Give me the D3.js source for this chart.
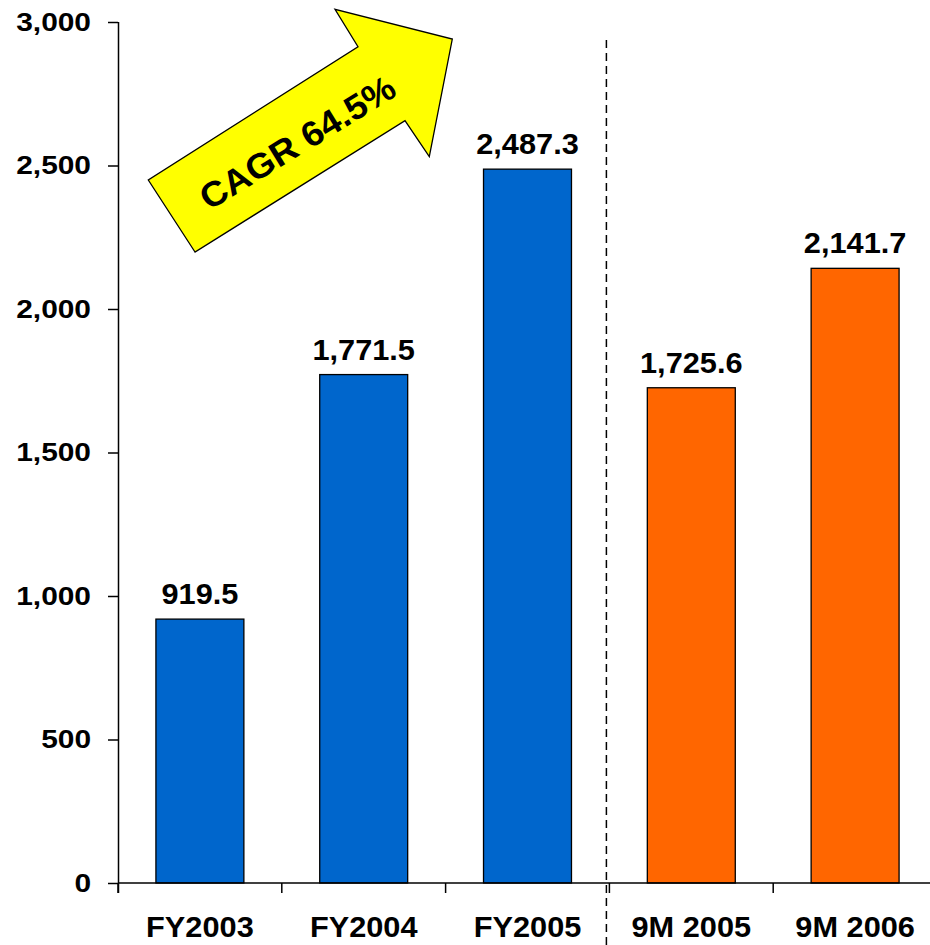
<!DOCTYPE html>
<html>
<head>
<meta charset="utf-8">
<script src="https://cdn.jsdelivr.net/npm/d3@7"></script>
<style>
  html, body { margin: 0; padding: 0; background: #fff; }
  svg { display: block; font-family: Arial, "Liberation Sans", sans-serif; }
</style>
</head>
<body>
<div id="chart"></div>
<script>
// Revenue by period
const categories = ["FY2003", "FY2004", "FY2005", "9M 2005", "9M 2006"];
const values = [919.5, 1771.5, 2487.3, 1725.6, 2141.7];
const groups = ["annual", "annual", "annual", "interim", "interim"];
const yTicks = [0, 500, 1000, 1500, 2000, 2500, 3000];
const cagrLabel = "CAGR 64.5%";

const W = 930, H = 945;
const margin = { left: 118, right: -7, top: 22, bottom: 62 };
const FONT = "Arial, 'Liberation Sans', sans-serif";

const svg = d3.select("#chart").append("svg")
  .attr("width", W).attr("height", H);

const x = d3.scaleBand()
  .domain(categories)
  .range([margin.left, W - margin.right])
  .paddingInner(0.463)
  .paddingOuter(0.2315);

const y = d3.scaleLinear()
  .domain([0, 3000])
  .range([H - margin.bottom, margin.top]);

const color = d3.scaleOrdinal().domain(["annual", "interim"]).range(["#0066CC", "#FF6600"]);

// Bars
svg.append("g").selectAll("rect")
  .data(values)
  .join("rect")
  .attr("x", (d, i) => x(categories[i]))
  .attr("y", d => y(d))
  .attr("width", x.bandwidth())
  .attr("height", d => y(0) - y(d))
  .attr("fill", (d, i) => color(groups[i]))
  .attr("stroke", "#000")
  .attr("stroke-width", 1.3);

// Value labels
const fmt = d3.format(",.1f");
svg.append("g").selectAll("text")
  .data(values)
  .join("text")
  .attr("transform", (d, i) => `translate(${x(categories[i]) + x.bandwidth() / 2},${y(d) - 15}) scale(1.06,1)`)
  .attr("text-anchor", "middle")
  .attr("font-size", 29)
  .attr("font-weight", "bold")
  .text(d => fmt(d));

// Y axis
const yAxis = svg.append("g")
  .attr("transform", `translate(${margin.left},0)`)
  .call(d3.axisLeft(y).tickValues(yTicks).tickFormat(d3.format(",")).tickSize(10).tickSizeOuter(0));
yAxis.select(".domain").attr("stroke", "#000").attr("stroke-width", 1.5)
  .attr("d", `M0.5,${y(3000)}V${y(0) + 10}`);
yAxis.selectAll(".tick line").attr("stroke", "#000").attr("stroke-width", 1.5);
yAxis.selectAll(".tick text")
  .attr("x", 0)
  .attr("transform", "translate(-27,0) scale(1.15,1)")
  .attr("font-size", 26).attr("font-weight", "bold")
  .attr("font-family", FONT).attr("fill", "#000");

// X axis with ticks at category boundaries
const xg = svg.append("g").attr("transform", `translate(0,${y(0)})`);
xg.append("line")
  .attr("x1", margin.left).attr("x2", W)
  .attr("stroke", "#000").attr("stroke-width", 1.5);
const step = x.step();
const boundaries = d3.range(categories.length + 1).map(i => margin.left + i * step);
xg.selectAll(".bt").data(boundaries).join("line")
  .attr("class", "bt")
  .attr("x1", d => d).attr("x2", d => d)
  .attr("y1", 0).attr("y2", 10)
  .attr("stroke", "#000").attr("stroke-width", 1.5);
xg.selectAll("text.cat").data(categories).join("text")
  .attr("class", "cat")
  .attr("transform", d => `translate(${x(d) + x.bandwidth() / 2},54) scale(1.06,1)`)
  .attr("text-anchor", "middle")
  .attr("font-size", 29)
  .attr("font-weight", "bold")
  .text(d => d);

// Divider between annual and interim periods
const divX = margin.left + 3 * step - 3;
svg.append("line")
  .attr("x1", divX).attr("x2", divX)
  .attr("y1", 40).attr("y2", H)
  .attr("stroke", "#000").attr("stroke-width", 1.5)
  .attr("stroke-dasharray", "8,5");

// Growth arrow annotation
const arrow = [[195, 252], [148.3, 180], [358, 46.7], [335, 9.3], [452.3, 39], [429.3, 156.7], [405, 120.7]];
svg.append("path")
  .attr("d", d3.line()(arrow) + "Z")
  .attr("fill", "#FFFF00")
  .attr("stroke", "#000")
  .attr("stroke-width", 1.3)
  .attr("stroke-linejoin", "miter");
svg.append("text")
  .attr("transform", "translate(299,145) rotate(-31.5) scale(1.05,1)")
  .attr("text-anchor", "middle")
  .attr("dominant-baseline", "middle")
  .attr("font-size", 35)
  .attr("font-weight", "bold")
  .text(cagrLabel);
</script>
</body>
</html>
